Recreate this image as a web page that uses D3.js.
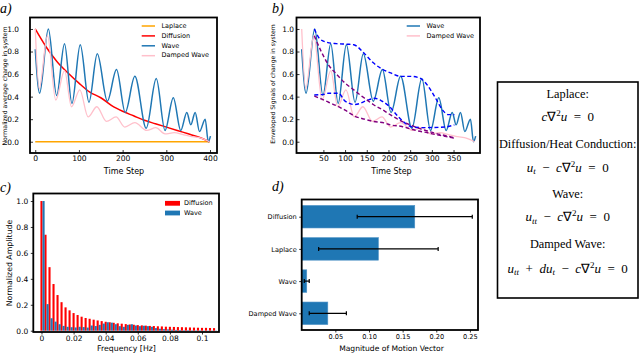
<!DOCTYPE html>
<html>
<head>
<meta charset="utf-8">
<script src="https://cdn.jsdelivr.net/npm/d3@7"></script>
<style>
  body { margin: 0; background: #fff; }
  svg { font-family: 'DejaVu Sans', sans-serif; }
</style>
</head>
<body>
<svg id="chart" width="640" height="354"></svg>
<script>
// ---- panel a / b : time series (time step, value) ----
const waveSteps = [0, 10, 30, 49, 67, 84, 103, 123, 142, 165, 186, 206, 228, 254, 277, 297, 316, 333, 347, 356, 366, 376, 389, 396, 401];
const waveValues = [0.82, 0.43, 1.0, 0.41, 0.87, 0.34, 0.86, 0.35, 0.78, 0.36, 0.64, 0.26, 0.58, 0.12, 0.56, 0.1, 0.39, 0.1, 0.26, 0.15, 0.26, 0.09, 0.2, 0.0, 0.05];

const dampedSteps = [0, 9, 28, 47, 67, 83, 102, 121, 141, 163, 185, 205, 228, 255, 276, 297, 318, 340, 360, 381, 399];
const dampedValues = [1.0, 0.47, 0.94, 0.37, 0.63, 0.31, 0.46, 0.22, 0.31, 0.18, 0.22, 0.13, 0.17, 0.1, 0.125, 0.07, 0.08, 0.06, 0.045, 0.03, 0.0];

const diffusionSteps = [0, 25, 50, 75, 100, 125, 150, 175, 200, 225, 250, 275, 300, 325, 350, 375, 399];
const diffusionValues = [1.0, 0.84, 0.71, 0.61, 0.52, 0.44, 0.39, 0.32, 0.27, 0.23, 0.19, 0.16, 0.13, 0.1, 0.07, 0.04, 0.0];

const laplaceSteps = [0, 399];
const laplaceValues = [0, 0];

// envelopes (panel b)
const waveUpperSteps = [29, 40, 55, 80, 105, 120, 145, 165, 185, 205, 228, 250, 272, 290, 308, 325, 338, 352];
const waveUpperValues = [1.0, 0.92, 0.885, 0.87, 0.865, 0.86, 0.78, 0.7, 0.645, 0.61, 0.58, 0.58, 0.565, 0.5, 0.39, 0.28, 0.24, 0.24];
const waveLowerSteps = [29, 50, 62, 85, 100, 123, 150, 168, 185, 200, 223, 240, 255, 285, 330, 352];
const waveLowerValues = [0.415, 0.42, 0.43, 0.43, 0.36, 0.33, 0.365, 0.385, 0.36, 0.32, 0.22, 0.16, 0.13, 0.125, 0.13, 0.15];
const dampedUpperSteps = [29, 45, 62, 80, 100, 120, 140, 165, 192, 204, 231, 250, 269, 290, 308, 330, 352];
const dampedUpperValues = [0.94, 0.8, 0.68, 0.6, 0.52, 0.46, 0.4, 0.33, 0.27, 0.24, 0.18, 0.15, 0.12, 0.095, 0.075, 0.055, 0.035];
const dampedLowerSteps = [29, 45, 62, 80, 100, 123, 145, 165, 192, 204, 231, 250, 269, 290, 307, 330, 354];
const dampedLowerValues = [0.405, 0.38, 0.35, 0.32, 0.28, 0.225, 0.2, 0.18, 0.165, 0.15, 0.135, 0.115, 0.095, 0.08, 0.065, 0.048, 0.03];

const timeTicksA = [0, 100, 200, 300, 400];
const timeTicksB = [50, 100, 150, 200, 250, 300, 350];
const changeTicks = [0, 0.2, 0.4, 0.6, 0.8, 1.0];

// ---- panel c : spectrum ----
const freqBins = [0, 0.0025, 0.005, 0.0075, 0.01, 0.0125, 0.015, 0.0175, 0.02, 0.0225, 0.025, 0.0275, 0.03, 0.0325, 0.035, 0.0375, 0.04, 0.0425, 0.045, 0.0475, 0.05, 0.0525, 0.055, 0.0575, 0.06, 0.0625, 0.065, 0.0675, 0.07, 0.0725, 0.075, 0.0775, 0.08, 0.0825, 0.085, 0.0875, 0.09, 0.0925, 0.095, 0.0975, 0.1, 0.1025, 0.105, 0.1075];
const diffusionAmp = [1.0, 0.74, 0.49, 0.36, 0.275, 0.22, 0.18, 0.157, 0.136, 0.121, 0.108, 0.098, 0.092, 0.085, 0.079, 0.074, 0.069, 0.065, 0.061, 0.057, 0.054, 0.051, 0.048, 0.046, 0.043, 0.041, 0.039, 0.037, 0.036, 0.034, 0.033, 0.031, 0.03, 0.029, 0.028, 0.027, 0.026, 0.025, 0.024, 0.023, 0.022, 0.022, 0.021, 0.02];
const waveAmp = [1.0, 0.205, 0.096, 0.07, 0.05, 0.037, 0.03, 0.027, 0.025, 0.03, 0.028, 0.024, 0.04, 0.036, 0.045, 0.055, 0.065, 0.062, 0.05, 0.035, 0.03, 0.045, 0.05, 0.04, 0.035, 0.038, 0.035, 0.03, 0.02, 0.015, 0.012, 0.01, 0.008, 0.006, 0.005, 0.004, 0.004, 0.003, 0.003, 0.003, 0.002, 0.002, 0.002, 0.002];
const freqTicks = [0, 0.02, 0.04, 0.06, 0.08, 0.1];
const freqTickLabels = ['0', '0.02', '0.04', '0.06', '0.08', '0.1'];
const ampTicks = [0, 0.2, 0.4, 0.6, 0.8, 1.0];

// ---- panel d : motion vector magnitude ----
const pdeNames = ['Diffusion', 'Laplace', 'Wave', 'Damped Wave'];
const motionMeans = [0.168, 0.114, 0.0075, 0.0388];
const motionErrors = [0.0855, 0.0888, 0.0037, 0.0276];
const motionTicks = [0.05, 0.1, 0.15, 0.2, 0.25];
const motionTickLabels = ['0.05', '0.10', '0.15', '0.20', '0.25'];

const svg = d3.select('#chart');

function zip(xs, ys) {
    return xs.map((x, i) => ({x: x, y: ys[i]}));
}

function frame(x0, y0, x1, y1) {
    svg.append('rect')
       .attr('x', x0).attr('y', y0)
       .attr('width', x1 - x0).attr('height', y1 - y0)
       .attr('fill', 'none').attr('stroke', '#000').attr('stroke-width', 1.8);
}

function styleAxis(g, size) {
    g.select('.domain').remove();
    g.selectAll('line').attr('stroke', '#000').attr('stroke-width', 0.8);
    g.selectAll('text').attr('font-size', size).attr('fill', '#000')
     .attr('font-family', "'DejaVu Sans', sans-serif");
}

function label(x, y, txt, size, rotate) {
    let t = svg.append('text')
               .attr('text-anchor', 'middle')
               .attr('dominant-baseline', 'middle')
               .attr('font-size', size)
               .attr('fill', '#000')
               .text(txt);
    if (rotate) {
        t.attr('transform', 'translate(' + x + ',' + y + ') rotate(-90)');
    } else {
        t.attr('x', x).attr('y', y);
    }
}

function panelTag(x, y, txt) {
    svg.append('text').attr('x', x).attr('y', y)
       .attr('font-family', "'Liberation Serif', serif")
       .attr('font-style', 'italic').attr('font-size', 14)
       .text(txt);
}

function drawLine(g, xs, ys, sx, sy, color, width, dash) {
    let line = d3.line()
                 .x(d => sx(d.x))
                 .y(d => sy(d.y))
                 .curve(d3.curveMonotoneX);
    let p = g.append('path')
             .datum(zip(xs, ys))
             .attr('d', line)
             .attr('fill', 'none')
             .attr('stroke', color)
             .attr('stroke-width', width);
    if (dash) p.attr('stroke-dasharray', dash);
}

// ================= panel a =================
const xA = d3.scaleLinear().domain([-12, 416]).range([30, 217]);
const yA = d3.scaleLinear().domain([-0.1, 1.1]).range([153, 17.7]);

let gA = svg.append('g');
drawLine(gA, laplaceSteps, laplaceValues, xA, yA, 'orange', 1.5);
drawLine(gA, diffusionSteps, diffusionValues, xA, yA, 'red', 1.5);
drawLine(gA, waveSteps, waveValues, xA, yA, '#1f77b4', 1.5);
drawLine(gA, dampedSteps, dampedValues, xA, yA, 'pink', 1.3);

styleAxis(svg.append('g').attr('transform', 'translate(30,0)')
   .call(d3.axisLeft(yA).tickValues(changeTicks).tickFormat(d3.format('.1f')).tickSize(-3).tickPadding(11)), 7.4);
styleAxis(svg.append('g').attr('transform', 'translate(0,153)')
   .call(d3.axisBottom(xA).tickValues(timeTicksA).tickSize(-3).tickPadding(3)), 7.6);
frame(30, 17.5, 217, 153);

const legendA = [['Laplace', 'orange'], ['Diffusion', 'red'], ['Wave', '#1f77b4'], ['Damped Wave', 'pink']];
legendA.forEach((d, i) => {
    let y = 26 + i * 9.9;
    svg.append('line').attr('x1', 141.7).attr('x2', 155).attr('y1', y).attr('y2', y)
       .attr('stroke', d[1]).attr('stroke-width', 1.5);
    svg.append('text').attr('x', 161.5).attr('y', y).attr('dominant-baseline', 'middle')
       .attr('font-size', 6.5).text(d[0]);
});
label(5, 86, 'Normalized average change in system', 6.2, true);
label(124, 171, 'Time Step', 8, false);
panelTag(0, 12.5, 'a)');

// ================= panel b =================
const xB = d3.scaleLinear().domain([-12, 411]).range([296.5, 480]);
const yB = d3.scaleLinear().domain([-0.1, 1.1]).range([153, 17.7]);

let gB = svg.append('g');
drawLine(gB, waveSteps, waveValues, xB, yB, '#1f77b4', 1.5);
drawLine(gB, dampedSteps, dampedValues, xB, yB, 'pink', 1.3);
drawLine(gB, waveUpperSteps, waveUpperValues, xB, yB, 'blue', 1.4, '4,2.5');
drawLine(gB, waveLowerSteps, waveLowerValues, xB, yB, 'blue', 1.4, '4,2.5');
drawLine(gB, dampedUpperSteps, dampedUpperValues, xB, yB, 'purple', 1.4, '4,2.5');
drawLine(gB, dampedLowerSteps, dampedLowerValues, xB, yB, 'purple', 1.4, '4,2.5');

styleAxis(svg.append('g').attr('transform', 'translate(296.5,0)')
   .call(d3.axisLeft(yB).tickValues(changeTicks).tickFormat(d3.format('.1f')).tickSize(-3).tickPadding(2.5)), 7.4);
styleAxis(svg.append('g').attr('transform', 'translate(0,153)')
   .call(d3.axisBottom(xB).tickValues(timeTicksB).tickSize(-3).tickPadding(3)), 7.6);
frame(296.5, 17.5, 480, 153);

const legendB = [['Wave', '#1f77b4'], ['Damped Wave', 'pink']];
legendB.forEach((d, i) => {
    let y = 26 + i * 9.9;
    svg.append('line').attr('x1', 406.7).attr('x2', 420).attr('y1', y).attr('y2', y)
       .attr('stroke', d[1]).attr('stroke-width', 1.5);
    svg.append('text').attr('x', 426.5).attr('y', y).attr('dominant-baseline', 'middle')
       .attr('font-size', 6.5).text(d[0]);
});
label(273.5, 84, 'Enveloped Signals of change in system', 6.1, true);
label(391.5, 171, 'Time Step', 8, false);
panelTag(272, 12.5, 'b)');

// ================= panel c =================
const xC = d3.scaleLinear().domain([-0.0051, 0.1106]).range([33.3, 219]);
const yC = d3.scaleLinear().domain([-0.01, 1.058]).range([332, 193.5]);
const barW = 0.0013;

svg.append('g').selectAll('rect')
   .data(zip(freqBins, diffusionAmp))
   .enter().append('rect')
   .attr('x', d => xC(d.x - barW / 2))
   .attr('y', d => yC(d.y))
   .attr('width', xC(barW) - xC(0))
   .attr('height', d => yC(0) - yC(d.y))
   .attr('fill', 'red');
svg.append('g').selectAll('rect')
   .data(zip(freqBins, waveAmp))
   .enter().append('rect')
   .attr('x', d => xC(d.x + barW / 2))
   .attr('y', d => yC(d.y))
   .attr('width', xC(barW) - xC(0))
   .attr('height', d => yC(0) - yC(d.y))
   .attr('fill', '#1f77b4');

styleAxis(svg.append('g').attr('transform', 'translate(33.3,0)')
   .call(d3.axisLeft(yC).tickValues(ampTicks).tickFormat(d3.format('.1f')).tickSize(2.5).tickPadding(2.5)), 7.5);
styleAxis(svg.append('g').attr('transform', 'translate(0,332)')
   .call(d3.axisBottom(xC).tickValues(freqTicks).tickFormat((d, i) => freqTickLabels[i]).tickSize(2.5).tickPadding(1.5)), 7.5);
frame(33.3, 193.5, 219, 332);

const legendC = [['Diffusion', 'red'], ['Wave', '#1f77b4']];
legendC.forEach((d, i) => {
    let y = 203.3 + i * 9.7;
    svg.append('rect').attr('x', 165).attr('y', y - 2.4).attr('width', 15).attr('height', 4.8)
       .attr('fill', d[1]);
    svg.append('text').attr('x', 184).attr('y', y).attr('dominant-baseline', 'middle')
       .attr('font-size', 6.5).text(d[0]);
});
label(10, 263, 'Normalized Amplitude', 7.8, true);
label(126.5, 349, 'Frequency [Hz]', 7.8, false);
panelTag(0, 192, 'c)');

// ================= panel d =================
const xD = d3.scaleLinear().domain([0, 0.262]).range([301.7, 478]);
const yD = d3.scalePoint().domain(pdeNames).range([216.7, 313.3]);
const barH = yD.step() * 0.7;

svg.append('g').selectAll('rect')
   .data(pdeNames)
   .enter().append('rect')
   .attr('x', xD(0))
   .attr('y', d => yD(d) - barH / 2)
   .attr('width', (d, i) => xD(motionMeans[i]) - xD(0))
   .attr('height', barH)
   .attr('fill', '#1f77b4')
   .attr('stroke', '#4f93c6')
   .attr('stroke-width', 0.6);

let errG = svg.append('g').attr('stroke', '#000').attr('stroke-width', 1.2);
pdeNames.forEach((d, i) => {
    let lo = xD(motionMeans[i] - motionErrors[i]);
    let hi = xD(motionMeans[i] + motionErrors[i]);
    let y = yD(d);
    errG.append('line').attr('x1', lo).attr('x2', hi).attr('y1', y).attr('y2', y);
    errG.append('line').attr('x1', lo).attr('x2', lo).attr('y1', y - 2).attr('y2', y + 2);
    errG.append('line').attr('x1', hi).attr('x2', hi).attr('y1', y - 2).attr('y2', y + 2);
});

styleAxis(svg.append('g').attr('transform', 'translate(301.7,0)')
   .call(d3.axisLeft(yD).tickSize(2.5).tickPadding(2.5)), 6.6);
styleAxis(svg.append('g').attr('transform', 'translate(0,330)')
   .call(d3.axisBottom(xD).tickValues(motionTicks).tickFormat((d, i) => motionTickLabels[i]).tickSize(2.5).tickPadding(1.5)), 6.6);
frame(301.7, 199.5, 478, 330);

label(391.5, 349, 'Magnitude of Motion Vector', 7.6, false);
panelTag(272, 191, 'd)');

// ================= equations box =================
const eqTitles = ['Laplace:', 'Diffusion/Heat Conduction:', 'Wave:', 'Damped Wave:'];
const eqParts = [
    [['c', 'i'], ['\u2207', 'n'], ['2', 'sup'], ['u', 'i'], ['\u2002=\u20020', 'n']],
    [['u', 'i'], ['t', 'sub'], ['\u2002\u2212\u2002', 'n'], ['c', 'i'], ['\u2207', 'n'], ['2', 'sup'], ['u', 'i'], ['\u2002=\u20020', 'n']],
    [['u', 'i'], ['tt', 'sub'], ['\u2002\u2212\u2002', 'n'], ['c', 'i'], ['\u2207', 'n'], ['2', 'sup'], ['u', 'i'], ['\u2002=\u20020', 'n']],
    [['u', 'i'], ['tt', 'sub'], ['\u2002+\u2002', 'n'], ['du', 'i'], ['t', 'sub'], ['\u2002\u2212\u2002', 'n'], ['c', 'i'], ['\u2207', 'n'], ['2', 'sup'], ['u', 'i'], ['\u2002=\u20020', 'n']]
];
const eqTitleY = [98, 147.5, 197.5, 247.5];
const eqMathY = [121, 171.5, 221, 272.5];

svg.append('rect').attr('x', 497.5).attr('y', 82).attr('width', 140.5).attr('height', 216)
   .attr('fill', 'none').attr('stroke', '#000').attr('stroke-width', 1.6);

let eqG = svg.append('g').attr('font-family', "'Liberation Serif', serif").attr('text-anchor', 'middle');
eqTitles.forEach((t, k) => {
    eqG.append('text').attr('x', 567.7).attr('y', eqTitleY[k]).attr('font-size', 12.3).text(t);
    let txt = eqG.append('text').attr('x', 567.7).attr('y', eqMathY[k]).attr('font-size', 13);
    let shift = 0;
    eqParts[k].forEach(p => {
        let target = p[1] === 'sub' ? 2.8 : (p[1] === 'sup' ? -4.8 : 0);
        let ts = txt.append('tspan').text(p[0]).attr('dy', target - shift);
        if (p[1] === 'i' || p[1] === 'sub') ts.attr('font-style', 'italic');
        if (p[1] === 'sub' || p[1] === 'sup') ts.attr('font-size', 9);
        shift = target;
    });
});
</script>
</body>
</html>
